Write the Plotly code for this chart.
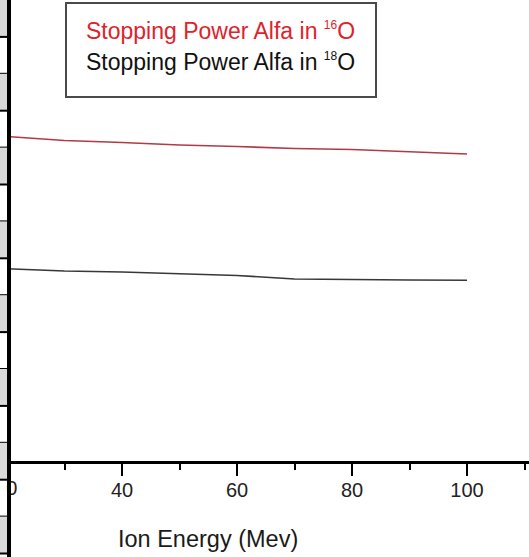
import plotly.graph_objects as go

# ---- data ----
energy_mev = [20, 30, 40, 50, 60, 70, 80, 90, 100]
sp_alpha_o16 = [3.526, 3.483, 3.461, 3.434, 3.418, 3.396, 3.386, 3.364, 3.337]
sp_alpha_o18 = [2.097, 2.073, 2.063, 2.041, 2.025, 1.987, 1.978, 1.976, 1.974]
series_names = ["Stopping Power Alfa in <sup><span style='font-size:12px'>16</span></sup>O",
                "Stopping Power Alfa in <sup><span style='font-size:12px'>18</span></sup>O"]
x_title = "Ion Energy (Mev)"
edge_tick = [20]
# the "2" of the first label is hidden behind the cropped left border
edge_tick_text = ["<span style='font-size:10px;color:rgba(0,0,0,0)'>2</span>0"]

W, H = 529, 557
PLOT_BOTTOM = 461  # pixel row of the plot-area bottom
MB = H - PLOT_BOTTOM

def px_x(p):
    return p / W

def px_y(p):
    return (PLOT_BOTTOM - p) / PLOT_BOTTOM

fig = go.Figure()
fig.add_trace(go.Scatter(x=energy_mev, y=sp_alpha_o16, mode="lines",
                         line=dict(color="#b23a45", width=1.6),
                         name="16O", showlegend=False))
fig.add_trace(go.Scatter(x=energy_mev, y=sp_alpha_o18, mode="lines",
                         line=dict(color="#383838", width=1.6),
                         name="18O", showlegend=False))
# empty helper trace so the overlaid axis (edge tick label) is drawn
fig.add_trace(go.Scatter(x=[], y=[], xaxis="x2", showlegend=False,
                         hoverinfo="skip"))

shapes = []
# left strip: grey / white cells with black separators, thick black line
period = 36.9
k = 0
y0 = 0.0
while y0 < H:
    y1 = min(y0 + period, H)
    if k % 2 == 0:
        shapes.append(dict(type="rect", xref="paper", yref="paper",
                           x0=px_x(0), x1=px_x(7.5), y0=px_y(y1), y1=px_y(y0),
                           fillcolor="#d9d9d9", line=dict(width=0), layer="above"))
    y0 = y1
    k += 1
    if y0 < H:
        shapes.append(dict(type="rect", xref="paper", yref="paper",
                           x0=px_x(0), x1=px_x(7.5), y0=px_y(y0 + 1), y1=px_y(y0 - 1),
                           fillcolor="black", line=dict(width=0), layer="above"))
shapes.append(dict(type="rect", xref="paper", yref="paper",
                   x0=px_x(7), x1=px_x(11), y0=px_y(H), y1=px_y(0),
                   fillcolor="black", line=dict(width=0), layer="above"))
# legend frame
shapes.append(dict(type="rect", xref="paper", yref="paper",
                   x0=px_x(66), x1=px_x(376), y0=px_y(97), y1=px_y(3),
                   fillcolor="white", line=dict(color="#4a4a4a", width=2),
                   layer="above"))

annotations = [
    dict(text=series_names[0], xref="paper", yref="paper",
         x=px_x(84), y=px_y(31), xanchor="left", yanchor="middle",
         showarrow=False, font=dict(family="Liberation Sans, Arial", size=23, color="#e0222c")),
    dict(text=series_names[1], xref="paper", yref="paper",
         x=px_x(84), y=px_y(62), xanchor="left", yanchor="middle",
         showarrow=False, font=dict(family="Liberation Sans, Arial", size=23, color="#111111")),
    dict(text=x_title, xref="paper", yref="paper",
         x=px_x(208), y=px_y(539), xanchor="center", yanchor="middle",
         showarrow=False, font=dict(family="Liberation Sans, Arial", size=23.5, color="#1a1a1a")),
]

x_lo = 20 - 7 / 5.75
x_hi = 20 + (W - 7) / 5.75
y_per_px = 1 / 92.6
y_lo = (463 - PLOT_BOTTOM) * y_per_px
y_hi = 463 * y_per_px

tickfont = dict(family="Liberation Sans, Arial", size=20, color="#222222")

fig.update_layout(
    width=W, height=H, autosize=False,
    margin=dict(l=0, r=0, t=0, b=MB, pad=0),
    paper_bgcolor="white", plot_bgcolor="white",
    showlegend=False,
    xaxis=dict(range=[x_lo, x_hi], showgrid=False, zeroline=False,
               showline=True, linecolor="black", linewidth=3,
               ticks="outside", ticklen=12, tickwidth=2, tickcolor="black",
               tickvals=[40, 60, 80, 100, 120],
               ticklabelstandoff=-3,
               minor=dict(ticks="outside", ticklen=6, tickwidth=2,
                          tickcolor="black", dtick=10, tick0=0, showgrid=False),
               tickfont=tickfont),
    xaxis2=dict(overlaying="x", matches="x", side="bottom", anchor="y",
                showgrid=False, zeroline=False, showline=False,
                ticks="outside", ticklen=12, tickwidth=2, tickcolor="black",
                tickvals=edge_tick, ticktext=edge_tick_text,
                ticklabelshift=2, ticklabelstandoff=-3,
                ticklabeloverflow="allow", tickfont=tickfont),
    yaxis=dict(range=[y_lo, y_hi], visible=False),
    shapes=shapes, annotations=annotations,
)

fig.write_html("out.html")
